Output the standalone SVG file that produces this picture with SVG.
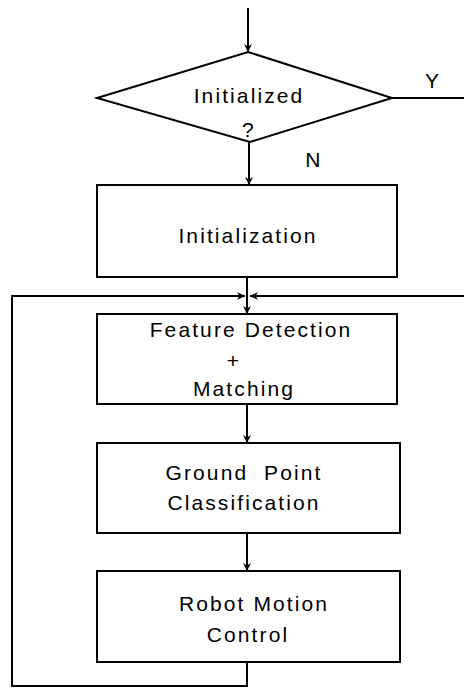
<svg xmlns="http://www.w3.org/2000/svg" width="464" height="688" viewBox="0 0 464 688">
<style>
.box{fill:#fff;stroke:#000;stroke-width:2}
.ln{fill:none;stroke:#000;stroke-width:2}
text{font-family:"Liberation Sans",Arial,sans-serif;font-size:21px;fill:#000;text-anchor:middle;letter-spacing:2.1px}
</style>
<defs>
<marker id="ah" viewBox="0 0 10 10" refX="10" refY="5" markerWidth="10" markerHeight="8" markerUnits="userSpaceOnUse" orient="auto">
<path d="M0,0 L10,5 L0,10 L3,5 Z" fill="#000"/>
</marker>
</defs>
<g id="connectors">
<line class="ln" x1="248" y1="8" x2="248" y2="52" marker-end="url(#ah)"/>
<line class="ln" x1="392" y1="98" x2="464" y2="98"/>
<line class="ln" x1="249" y1="142" x2="249" y2="185" marker-end="url(#ah)"/>
<line class="ln" x1="247" y1="277" x2="247" y2="314" marker-end="url(#ah)"/>
<polyline class="ln" points="247,662 247,686 12,686 12,296 245,296" marker-end="url(#ah)"/>
<line class="ln" x1="464" y1="296" x2="250" y2="296" marker-end="url(#ah)"/>
<line class="ln" x1="247" y1="404" x2="247" y2="443" marker-end="url(#ah)"/>
<line class="ln" x1="247" y1="533" x2="247" y2="571" marker-end="url(#ah)"/>
<text x="433" y="88">Y</text>
<text x="314" y="167">N</text>
</g>
<g id="initialized">
<polygon class="box" points="248,52 392,98 250,142 97,98"/>
<text x="249" y="103">Initialized</text>
<text x="249" y="137">?</text>
</g>
<g id="initialization">
<rect class="box" x="97" y="185" width="300" height="92"/>
<text x="248" y="243">Initialization</text>
</g>
<g id="feature">
<rect class="box" x="97" y="314" width="300" height="90"/>
<text x="251" y="337">Feature Detection</text>
<text x="234" y="368">+</text>
<text x="244" y="396">Matching</text>
</g>
<g id="ground">
<rect class="box" x="97" y="443" width="303" height="90"/>
<text x="244" y="480" xml:space="preserve">Ground  Point</text>
<text x="244" y="510">Classification</text>
</g>
<g id="robot">
<rect class="box" x="97" y="571" width="303" height="91"/>
<text x="254" y="611">Robot Motion</text>
<text x="248" y="642">Control</text>
</g>
</svg>
